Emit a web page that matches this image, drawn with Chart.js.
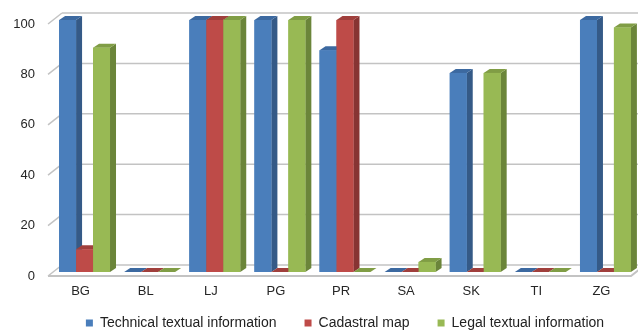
<!DOCTYPE html>
<html>
<head>
<meta charset="utf-8">
<script src="https://cdn.jsdelivr.net/npm/chart.js@4/dist/chart.umd.min.js"></script>
<style>
  html, body { margin: 0; padding: 0; background: #ffffff; }
  #wrap { width: 638px; height: 331px; }
</style>
</head>
<body>
<div id="wrap"><canvas id="chart" width="638" height="331"></canvas></div>
<script>
// Categories and series
const categories = ['BG', 'BL', 'LJ', 'PG', 'PR', 'SA', 'SK', 'TI', 'ZG'];
const technicalText = [100, 0, 100, 100, 88, 0, 79, 0, 100];
const cadastralMap  = [9, 0, 100, 0, 100, 0, 0, 0, 0];
const legalText     = [89, 0, 100, 100, 0, 4, 79, 0, 97];
const seriesNames   = ['Technical textual information', 'Cadastral map', 'Legal textual information'];
const yTickValues   = [0, 20, 40, 60, 80, 100];

// Face colours: front, side, top
const palette = [
  { front: '#4a7ebb', side: '#355a87', top: '#3c69a0' },
  { front: '#be4b48', side: '#873433', top: '#a03f3c' },
  { front: '#98b954', side: '#6b853a', top: '#809d45' }
];

// Depth of the bars and of the back wall
const BAR_DX = 6, BAR_DY = 4;
const WALL_BACK_DX = 10, WALL_BACK_DY = -7;
const WALL_FRONT_DX = -4, WALL_FRONT_DY = 4;
const GRID_COLOR = '#c3c3c3';
const LEGEND_PAD = 28;
const LEGEND_CENTER_Y = 323;

function poly(ctx, pts, fill) {
  ctx.beginPath();
  ctx.moveTo(pts[0][0], pts[0][1]);
  for (let i = 1; i < pts.length; i++) ctx.lineTo(pts[i][0], pts[i][1]);
  ctx.closePath();
  ctx.fillStyle = fill;
  ctx.fill();
}

// Places the legend row right under the category labels
const legendPlacement = {
  id: 'legendPlacement',
  afterLayout(chart) {
    const lg = chart.legend;
    if (!lg) return;
    const itemHeight = 14;
    lg.top = LEGEND_CENTER_Y - LEGEND_PAD - itemHeight / 2;
    lg.bottom = chart.height;
    lg.height = lg.bottom - lg.top;
  }
};

const wallAndFloor = {
  id: 'wallAndFloor',
  beforeDatasetsDraw(chart) {
    const { ctx, chartArea, scales } = chart;
    const y = scales.y;
    const left = chartArea.left, right = chartArea.right;
    const W = chart.width;
    ctx.save();
    ctx.strokeStyle = GRID_COLOR;
    ctx.lineWidth = 1.5;
    // back wall gridlines and slanted tick marks
    yTickValues.forEach(v => {
      const py = y.getPixelForValue(v);
      ctx.beginPath();
      ctx.moveTo(left + WALL_BACK_DX, py + WALL_BACK_DY);
      ctx.lineTo(W + 2, py + WALL_BACK_DY);
      ctx.stroke();
      ctx.beginPath();
      ctx.moveTo(left + WALL_FRONT_DX, py + WALL_FRONT_DY);
      ctx.lineTo(left + WALL_BACK_DX, py + WALL_BACK_DY);
      ctx.stroke();
    });
    // floor front edge
    const p0 = y.getPixelForValue(0);
    ctx.lineWidth = 2;
    ctx.beginPath();
    ctx.moveTo(left + WALL_FRONT_DX, p0 + WALL_FRONT_DY);
    ctx.lineTo(right - 7, p0 + WALL_FRONT_DY);
    ctx.lineTo(right - 7 + (WALL_BACK_DX - WALL_FRONT_DX), p0 + WALL_BACK_DY);
    ctx.stroke();
    ctx.restore();
  },
  afterDatasetsDraw(chart) {
    const ctx = chart.ctx;
    ctx.save();
    chart.data.datasets.forEach((ds, i) => {
      const meta = chart.getDatasetMeta(i);
      const col = palette[i];
      meta.data.forEach(bar => {
        const { x, y, base, width } = bar.getProps(['x', 'y', 'base', 'width'], true);
        const x0 = x - width / 2, x1 = x + width / 2;
        // side face
        poly(ctx, [[x1, y], [x1 + BAR_DX, y - BAR_DY], [x1 + BAR_DX, base - BAR_DY], [x1, base]], col.side);
        // top face
        poly(ctx, [[x0, y], [x0 + BAR_DX, y - BAR_DY], [x1 + BAR_DX, y - BAR_DY], [x1, y]], col.top);
        // front face
        if (base - y > 0) {
          ctx.fillStyle = col.front;
          ctx.fillRect(x0, y, width, base - y);
        }
      });
    });
    ctx.restore();
  }
};

const seriesValues = [technicalText, cadastralMap, legalText];

new Chart(document.getElementById('chart'), {
  type: 'bar',
  data: {
    labels: categories,
    datasets: seriesValues.map((vals, i) => ({
      label: seriesNames[i],
      data: vals,
      backgroundColor: palette[i].front,
      borderWidth: 0,
      categoryPercentage: 0.782,
      barPercentage: 1.0
    }))
  },
  options: {
    responsive: false,
    animation: false,
    devicePixelRatio: 1,
    layout: { padding: { top: 20, right: 0, bottom: 0, left: 0 } },
    plugins: {
      tooltip: { enabled: false },
      legend: {
        position: 'bottom',
        fullSize: false,
        maxHeight: 32,
        labels: {
          boxWidth: 7,
          boxHeight: 7,
          padding: LEGEND_PAD,
          color: '#222222',
          font: { family: 'Liberation Sans', size: 14 }
        }
      }
    },
    scales: {
      x: {
        grid: { display: false },
        border: { display: false },
        ticks: {
          color: '#262626',
          padding: 4,
          labelOffset: -4,
          font: { family: 'Liberation Sans', size: 13 }
        },
        afterFit(scale) { scale.height = 27; }
      },
      y: {
        min: 0,
        max: 100,
        grid: { display: false },
        border: { display: false },
        ticks: {
          stepSize: 20,
          color: '#262626',
          padding: 9,
          labelOffset: 4,
          font: { family: 'Liberation Sans', size: 13 }
        },
        afterFit(scale) { scale.width = 52; }
      }
    }
  },
  plugins: [wallAndFloor, legendPlacement]
});
</script>
</body>
</html>
